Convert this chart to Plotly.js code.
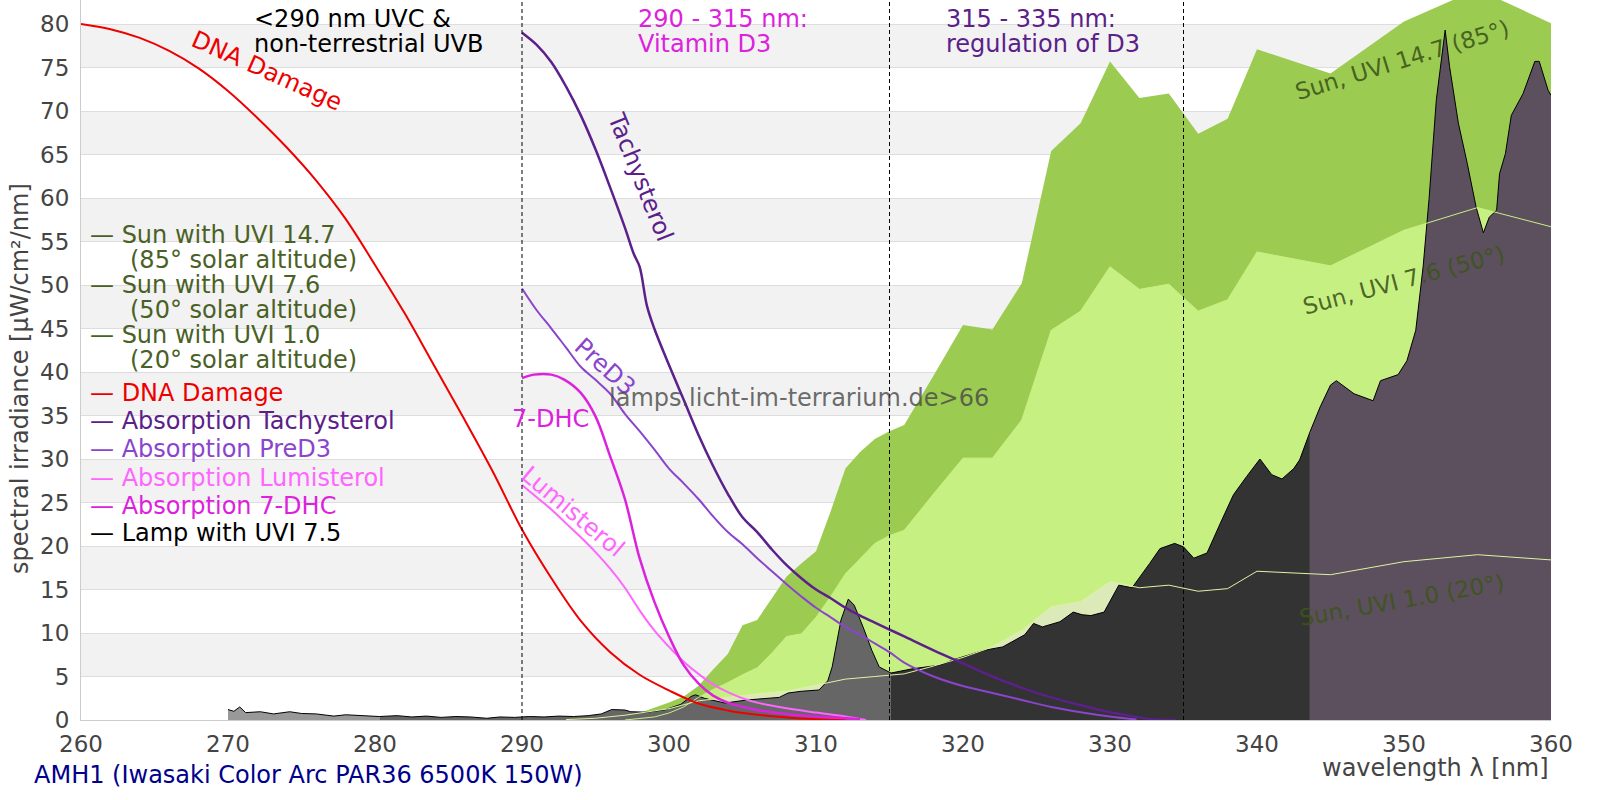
<!DOCTYPE html>
<html>
<head>
<meta charset="utf-8">
<script src="https://cdn.plot.ly/plotly-3.0.1.min.js"></script>
<style>
  html, body { margin: 0; padding: 0; background: #fff; }
  #chart { width: 1600px; height: 800px; }
</style>
</head>
<body>
<div id="chart"></div>
<script>
// wavelength ticks
const xTicks = [260, 270, 280, 290, 300, 310, 320, 330, 340, 350, 360];
const yTicks = [0, 5, 10, 15, 20, 25, 30, 35, 40, 45, 50, 55, 60, 65, 70, 75, 80];

// sun spectra (µW/cm²/nm)
const sun147X = [296, 297, 298, 299, 300, 301, 302, 303, 304, 305, 306, 307, 308, 309, 310, 311, 312, 313, 314, 315, 316, 318, 320, 322, 324, 326, 328, 330, 332, 334, 336, 338, 340, 345, 350, 355, 360];
const sun147Y = [0, 0.3, 0.8, 1.4, 2.0, 2.7, 3.9, 5.8, 7.6, 10.9, 11.5, 14.0, 16.5, 18.0, 19.4, 24.0, 28.9, 30.8, 32.3, 33.2, 33.9, 39.6, 45.4, 44.9, 50.2, 65.4, 68.6, 75.7, 71.5, 72.0, 67.4, 69.1, 77.1, 74.3, 80.3, 84.0, 80.1];

const sun76X = [297, 298, 299, 300, 301, 302, 303, 304, 305, 306, 307, 308, 309, 310, 311, 312, 313, 314, 315, 316, 318, 320, 322, 324, 326, 328, 330, 332, 334, 336, 338, 340, 345, 350, 355, 360];
const sun76Y = [0, 0.15, 0.35, 0.8, 1.5, 2.6, 3.5, 4.3, 5.2, 6.0, 7.7, 9.6, 9.9, 11.8, 14.2, 16.8, 18.6, 20.3, 21.2, 21.8, 26.0, 30.1, 30.1, 34.5, 44.8, 47.0, 52.1, 49.5, 50.1, 47.0, 48.3, 53.8, 52.2, 56.3, 58.9, 56.7];

const sun10X = [293, 295, 297, 299, 300, 302, 304, 306, 308, 310, 312, 314, 316, 318, 320, 322, 324, 326, 328, 330, 332, 334, 336, 338, 340, 345, 350, 355, 360];
const sun10Y = [0.05, 0.2, 0.55, 1.0, 1.3, 2.2, 2.6, 3.0, 3.3, 4.0, 4.7, 5.0, 5.3, 6.2, 7.2, 8.4, 10.3, 13.0, 13.6, 15.9, 15.2, 15.5, 14.8, 15.1, 17.1, 16.7, 18.2, 19.0, 18.4];

// lamp AMH1 measured spectrum
const lampX = [270.0, 270.4, 270.8, 271.2, 272.2, 273.1, 274.2, 275.0, 276.0, 277.2, 278.0, 279.0, 280.3, 281.5, 282.5, 283.5, 284.5, 285.5, 286.5, 287.6, 288.5, 289.5, 290.5, 291.5, 292.5, 293.5, 294.5, 295.4, 296.1, 297.0, 297.4, 298.5, 299.7, 300.8, 301.5, 301.8, 302.4, 303.3, 303.8, 305.3, 307.5, 308.1, 309.0, 310.2, 310.8, 311.1, 311.7, 312.2, 312.6, 313.2, 313.8, 314.3, 315.1, 316.6, 318.4, 319.3, 321.4, 322.7, 324.2, 324.8, 325.4, 326.6, 327.5, 328.1, 328.7, 329.6, 330.6, 331.5, 332.7, 333.4, 334.4, 335.0, 335.7, 336.6, 337.5, 338.4, 339.3, 340.2, 341.0, 341.7, 342.5, 342.9, 343.6, 344.3, 345.0, 345.4, 346.6, 347.9, 348.4, 349.6, 350.2, 350.8, 351.3, 351.7, 352.2, 352.8, 353.1, 353.7, 354.3, 354.9, 355.4, 355.8, 356.3, 356.5, 356.9, 357.3, 358.1, 358.9, 359.2, 359.8, 360.0];
const lampY = [1.2, 1.0, 1.5, 0.85, 0.95, 0.7, 0.95, 0.75, 0.7, 0.45, 0.6, 0.5, 0.4, 0.5, 0.35, 0.45, 0.3, 0.4, 0.35, 0.2, 0.35, 0.3, 0.4, 0.35, 0.45, 0.4, 0.5, 0.7, 1.2, 1.15, 0.95, 0.9, 1.15, 1.8, 2.7, 2.9, 2.5, 2.1, 1.95, 2.3, 2.6, 3.1, 3.3, 3.45, 4.5, 6.1, 11.5, 13.9, 13.2, 10.7, 8.0, 6.1, 5.4, 5.9, 6.3, 6.9, 8.0, 8.4, 9.8, 11.1, 10.7, 11.3, 12.4, 12.1, 12.0, 12.4, 15.5, 15.2, 18.0, 19.7, 20.3, 19.9, 18.6, 19.2, 22.6, 25.9, 28.0, 30.0, 28.2, 27.7, 28.9, 29.9, 33.1, 36.0, 38.5, 39.0, 37.5, 36.7, 39.0, 39.7, 41.3, 44.8, 52.1, 59.8, 71.3, 79.3, 75.1, 68.6, 64.0, 59.0, 56.0, 57.8, 58.6, 62.8, 65.1, 69.5, 72.0, 75.7, 75.7, 72.4, 71.8];
const lampBreaks = [270.0, 280.3, 315.1, 343.6, 360.0];
const lampColors = ['#999999', '#666666', '#333333', '#5c4f5e'];

// action spectra / absorption (scaled)
const dnaX = [260, 262, 264, 266, 268, 270, 272, 274, 276, 278, 280, 282, 284, 286, 288, 290, 292, 294, 296, 298, 300, 302, 304, 306, 308, 310, 312];
const dnaY = [80.0, 79.4, 78.4, 76.9, 74.9, 72.3, 69.2, 65.8, 62.0, 57.6, 52.3, 46.8, 40.8, 34.8, 28.6, 21.9, 16.3, 11.4, 7.8, 5.2, 3.4, 1.9, 1.1, 0.6, 0.3, 0.1, 0];

const tachX = [290, 291, 292, 293, 294, 295, 296, 297, 297.6, 298, 298.5, 299, 300, 301, 302, 303, 304, 305, 306, 307, 308, 309, 310, 311, 312, 313, 314, 315, 316, 318, 320, 322, 324, 326, 328, 330, 332, 333, 334.5];
const tachY = [79.0, 77.6, 75.6, 72.8, 69.5, 65.6, 61.2, 56.6, 53.6, 52.1, 47.6, 45.0, 40.8, 36.8, 32.8, 29.2, 26.0, 23.3, 21.6, 19.6, 17.8, 16.3, 15.0, 14.0, 12.9, 12.0, 11.2, 10.4, 9.6, 8.0, 6.5, 5.0, 3.7, 2.6, 1.7, 0.9, 0.3, 0.05, 0];

const predX = [290, 291, 292, 293, 294, 295, 296, 297, 298, 299, 300, 301, 302, 303, 304, 305, 306, 307, 308, 309, 310, 311, 312, 313, 314, 315, 316, 318, 320, 322, 324, 326, 328, 330, 331.8];
const predY = [49.6, 47.1, 45.0, 42.8, 40.6, 39.1, 37.5, 35.2, 33.2, 31.1, 28.9, 27.2, 25.4, 23.4, 21.6, 20.2, 18.6, 17.1, 15.6, 14.2, 12.9, 11.8, 10.7, 9.8, 8.8, 7.8, 6.6, 5.0, 3.9, 3.1, 2.3, 1.5, 0.9, 0.4, 0.05];

const lumiX = [290, 291, 292, 293, 294, 295, 296, 297, 298, 299, 300, 301, 302, 303, 304, 305, 306, 308, 310, 312, 313.4];
const lumiY = [27.0, 25.6, 24.2, 22.6, 21.0, 19.3, 17.4, 15.2, 12.6, 10.3, 8.4, 6.7, 5.3, 4.1, 3.2, 2.5, 2.0, 1.35, 0.85, 0.4, 0];

const dhcX = [290, 290.8, 292, 292.9, 294, 295, 296, 297, 298, 299, 300, 301, 302, 303, 304, 306, 308, 310, 312, 313];
const dhcY = [39.3, 39.7, 39.7, 39.1, 37.6, 34.9, 30.3, 25.4, 18.6, 13.6, 9.6, 6.3, 4.2, 2.8, 2.0, 1.15, 0.7, 0.4, 0.2, 0.1];

// legend entries (drawn as text, like the original)
const legendLines = [
  ['— Sun with UVI 14.7', '#4a6126', 0],
  ['(85° solar altitude)', '#4a6126', 1],
  ['— Sun with UVI 7.6', '#4a6126', 0],
  ['(50° solar altitude)', '#4a6126', 1],
  ['— Sun with UVI 1.0', '#4a6126', 0],
  ['(20° solar altitude)', '#4a6126', 1],
  ['— DNA Damage', '#ee0000', 0],
  ['— Absorption Tachysterol', '#5b2089', 0],
  ['— Absorption PreD3', '#8b44cc', 0],
  ['— Absorption Lumisterol', '#ff66ff', 0],
  ['— Absorption 7-DHC', '#dd22dd', 0],
  ['— Lamp with UVI 7.5', '#000000', 0]
];
const legendPx = [235, 260, 285, 310, 335, 360, 393, 421, 449, 478, 506, 533];

const FONT = 'DejaVu Sans, Verdana, sans-serif';
const X0 = 80.7, PXNM = 14.7, Y0 = 720, PXV = 8.7;
const nm = px => 260 + (px - X0) / PXNM;
const val = py => (Y0 - py) / PXV;

function lampPart(lo, hi) {
  const xs = [], ys = [];
  lampX.forEach((x, i) => { if (x >= lo && x <= hi) { xs.push(x); ys.push(lampY[i]); } });
  return {xs, ys};
}

const traces = [];
const area = (x, y, color) => ({x, y, type: 'scatter', mode: 'lines', fill: 'tozeroy', fillcolor: color,
  line: {width: 0, color: color}, hoverinfo: 'skip', showlegend: false});
const curve = (x, y, color, w) => ({x, y, type: 'scatter', mode: 'lines', line: {color: color, width: w, shape: 'spline', smoothing: 1},
  hoverinfo: 'skip', showlegend: false});

traces.push(area(sun147X, sun147Y, '#9bcb50'));
traces.push(area(sun76X, sun76Y, '#c7f083'));
traces.push(area(sun10X, sun10Y, '#dbeab8'));

for (let i = 0; i < lampColors.length; i++) {
  const p = lampPart(lampBreaks[i], lampBreaks[i + 1]);
  traces.push({x: p.xs, y: p.ys, type: 'scatter', mode: 'lines', fill: 'tozeroy', fillcolor: lampColors[i],
    line: {color: '#000000', width: 1}, hoverinfo: 'skip', showlegend: false});
}

traces.push({x: sun10X, y: sun10Y, type: 'scatter', mode: 'lines', line: {color: '#dff2a4', width: 1}, hoverinfo: 'skip', showlegend: false});
traces.push({x: sun76X, y: sun76Y, type: 'scatter', mode: 'lines', line: {color: '#c7f083', width: 1}, hoverinfo: 'skip', showlegend: false});

traces.push(curve(dnaX, dnaY, '#ee0000', 2));
traces.push(curve(lumiX, lumiY, '#ff66ff', 2));
traces.push(curve(dhcX, dhcY, '#dd22dd', 2.5));
traces.push(curve(predX, predY, '#8b44cc', 2));
traces.push(curve(tachX, tachY, '#5b2089', 2.5));

// shapes: grey bands and dashed range markers
const shapes = [];
for (let v = 5; v < 80; v += 10) {
  shapes.push({type: 'rect', xref: 'paper', yref: 'y', x0: 0, x1: 1, y0: v, y1: v + 5,
    fillcolor: '#f2f2f2', line: {width: 0}, layer: 'below'});
}
[290, 315, 335].forEach(w => shapes.push({type: 'line', xref: 'x', yref: 'paper', x0: w, x1: w, y0: 0, y1: 1,
  line: {color: '#000000', width: 1, dash: '4px,3px'}, layer: 'above'}));

const ann = [];
const txt = (text, x, y, color, size, opts) => ann.push(Object.assign({text, x, y, xref: 'x', yref: 'y', showarrow: false,
  font: {family: FONT, size: size, color: color}}, opts || {}));

legendLines.forEach((l, i) => txt(l[0], nm(l[2] ? 128 : 88), val(legendPx[i]), l[1], 24, {xanchor: 'left', yanchor: 'middle'}));

txt('&lt;290 nm UVC &amp;', nm(252), val(19), '#000000', 24, {xanchor: 'left', yanchor: 'middle'});
txt('non-terrestrial UVB', nm(252), val(44), '#000000', 24, {xanchor: 'left', yanchor: 'middle'});
txt('290 - 315 nm:', nm(636), val(19), '#dd22dd', 24, {xanchor: 'left', yanchor: 'middle'});
txt('Vitamin D3', nm(636), val(44), '#dd22dd', 24, {xanchor: 'left', yanchor: 'middle'});
txt('315 - 335 nm:', nm(944), val(19), '#5b2089', 24, {xanchor: 'left', yanchor: 'middle'});
txt('regulation of D3', nm(944), val(44), '#5b2089', 24, {xanchor: 'left', yanchor: 'middle'});

txt('DNA Damage', nm(267), val(71), '#ee0000', 24, {textangle: 24});
txt('Tachysterol', nm(640), val(177), '#5b2089', 24, {textangle: 68});
txt('PreD3', nm(605), val(367), '#8b44cc', 24, {textangle: 42});
txt('7-DHC', nm(550), val(419), '#dd22dd', 24);
txt('Lumisterol', nm(573), val(512), '#ff66ff', 24, {textangle: 40});
txt('lamps.licht-im-terrarium.de&gt;66', nm(799), val(398), 'rgba(70,70,70,0.8)', 24);
txt('Sun, UVI 14.7 (85°)', nm(1402), val(60), 'rgba(60,85,25,0.9)', 23, {textangle: -17});
txt('Sun, UVI 7.6 (50°)', nm(1404), val(280), 'rgba(60,85,25,0.9)', 23, {textangle: -15});
txt('Sun, UVI 1.0 (20°)', nm(1402), val(600), 'rgba(60,85,25,0.9)', 23, {textangle: -10});

ann.push({text: 'spectral irradiance [µW/cm²/nm]', xref: 'paper', yref: 'y', x: (20 - 81) / 1470, y: val(379),
  xanchor: 'center', yanchor: 'middle', textangle: -90, showarrow: false, font: {family: FONT, size: 24, color: '#444444'}});
ann.push({text: 'wavelength λ [nm]', xref: 'paper', yref: 'paper', x: 1, y: -(768 - 720) / 720, xanchor: 'right', yanchor: 'middle',
  showarrow: false, font: {family: FONT, size: 24, color: '#444444'}});
ann.push({text: 'AMH1 (Iwasaki Color Arc PAR36 6500K 150W)', xref: 'paper', yref: 'paper', x: (32 - 81) / 1470, y: -(775 - 720) / 720,
  xanchor: 'left', yanchor: 'middle', showarrow: false, font: {family: FONT, size: 24, color: '#00008b'}});

const layout = {
  width: 1600, height: 800,
  margin: {l: 81, r: 49, t: 0, b: 80},
  paper_bgcolor: '#ffffff', plot_bgcolor: '#ffffff',
  font: {family: FONT, size: 23, color: '#444444'},
  xaxis: {range: [260, 360], tickvals: xTicks, ticks: '', showgrid: false, zeroline: false,
    showline: true, linecolor: '#cccccc', linewidth: 1, ticklabelstandoff: 3, fixedrange: true},
  yaxis: {range: [0, 82.76], tickvals: yTicks, ticks: '', showgrid: true, gridcolor: '#dddddd', gridwidth: 1,
    zeroline: false, showline: true, linecolor: '#cccccc', linewidth: 1, ticklabelstandoff: 6, fixedrange: true},
  shapes: shapes,
  annotations: ann,
  showlegend: false
};

Plotly.newPlot('chart', traces, layout, {staticPlot: true});
</script>
</body>
</html>
